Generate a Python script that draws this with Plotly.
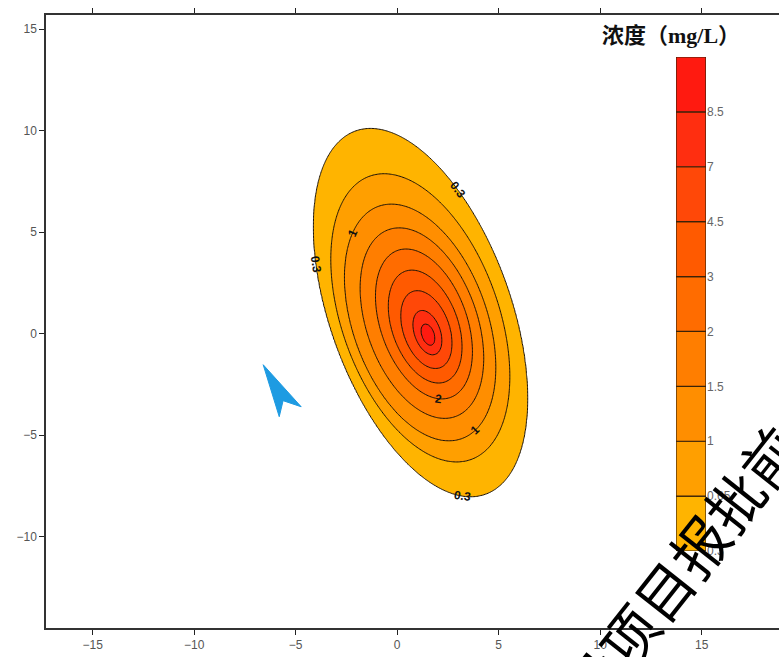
import numpy as np
import plotly.graph_objects as go

# ---------------- data ----------------
levels = [0.3, 0.65, 1, 1.5, 2, 3, 4.5, 7, 8.5]
level_labels = ["0.3", "0.65", "1", "1.5", "2", "3", "4.5", "7", "8.5"]
band_colors = ["#FFB400", "#FF9F00", "#FF8E00", "#FF7E00", "#FF6C00",
               "#FF5A00", "#FF4808", "#FF2E10", "#FF1A10"]

plume_tilt_deg = 19.7             # major axis tilt from vertical (toward upper-left)
ring_major = [9.5, 7.41, 6.08, 4.89, 3.85, 2.9, 2.0, 1.14, 0.55]   # semi-major of each contour (m)
ring_minor = [4.45, 3.86, 3.31, 2.72, 2.13, 1.63, 1.14, 0.64, 0.31]  # semi-minor of each contour (m)
ring_cx = [1.15, 1.14, 1.13, 1.22, 1.32, 1.38, 1.44, 1.49, 1.52]    # centre x of each contour
ring_cy = [1.04, 0.78, 0.55, 0.52, 0.48, 0.35, 0.20, 0.05, -0.05]   # centre y of each contour
peak_conc = 9.5

# contour labels: (level index, direction from that contour's centre in degrees)
label_level_idx = [0, 0, 0, 2, 2, 4]
label_dir_deg = [73, 155, -77, 127, -63, -79]

x_ticks = [-15, -10, -5, 0, 5, 10, 15]
y_ticks = [-10, -5, 0, 5, 10, 15]

flow_arrow_x = [-6.60, -4.73, -5.62, -5.81]
flow_arrow_y = [-1.53, -3.60, -3.30, -4.09]

watermark = "建设项目报批前公示"

# ---------------- geometry ----------------
phi = np.deg2rad(plume_tilt_deg)
m_vec = np.array([-np.sin(phi), np.cos(phi)])   # major axis direction
n_vec = np.array([np.cos(phi), np.sin(phi)])    # minor axis direction

x_range = [-17.3, 18.81]
y_range = [-14.5, 15.7]
xs = np.arange(x_range[0] - 0.2, x_range[1] + 0.2, 0.07)
ys = np.arange(y_range[0] - 0.2, y_range[1] + 0.2, 0.07)
X, Y = np.meshgrid(xs, ys)

nlev = len(levels)
G = []
for k in range(nlev):
    dx, dy = X - ring_cx[k], Y - ring_cy[k]
    u = dx * m_vec[0] + dy * m_vec[1]
    v = dx * n_vec[0] + dy * n_vec[1]
    s = np.sqrt(u**2 / ring_major[k]**2 + v**2 / ring_minor[k]**2) + 1e-9
    G.append(np.log(s))           # <0 inside contour k, 0 on it
G = np.array(G)
S_in = np.exp(G[-1])
peak_idx = (nlev - 1) + (peak_conc - levels[-1]) / 1.5

kin = (G < 0).sum(axis=0)          # number of contours enclosing each point
Z = np.empty_like(X)
outside = kin == 0
Z[outside] = -np.minimum(3.0 * G[0][outside], 8)
inner = kin == nlev
Z[inner] = (nlev - 1) + (peak_idx - (nlev - 1)) * (1 - S_in[inner])
mid = (~outside) & (~inner)
k_idx = np.clip(kin - 1, 0, nlev - 2)
gk = np.take_along_axis(G, k_idx[None], axis=0)[0]
gk1 = np.take_along_axis(G, (k_idx + 1)[None], axis=0)[0]
frac = gk / (gk - gk1 + 1e-12)
Z[mid] = (k_idx + frac)[mid]

# colourscale: background (below lowest level) white, then band colours
cs = [[0.0, "#FFFFFF"]]
for k, c in enumerate(band_colors):
    cs.append([(k + 1) / nlev, c])

fig = go.Figure()
fig.add_trace(go.Contour(
    x=xs, y=ys, z=Z,
    contours=dict(start=0, end=nlev - 1, size=1, coloring="fill", showlabels=False),
    colorscale=cs, showscale=False,
    line=dict(color="#1a1208", width=1),
    hoverinfo="skip",
))

# colour bar drawn as stacked bars
fig.add_trace(go.Bar(
    x=[0] * nlev, y=[1] * nlev, base=list(range(nlev)), width=1,
    marker=dict(color=band_colors, line=dict(color="#3a2208", width=1.2)),
    xaxis="x2", yaxis="y2", showlegend=False, hoverinfo="skip",
))

# contour labels
annotations = []
for k, ang in zip(label_level_idx, label_dir_deg):
    a = np.deg2rad(ang)
    d = np.array([np.cos(a), np.sin(a)])
    uu, vv = d @ m_vec, d @ n_vec
    Rk = 1.0 / np.sqrt(uu**2 / ring_major[k]**2 + vv**2 / ring_minor[k]**2)
    px, py = ring_cx[k] + Rk * d[0], ring_cy[k] + Rk * d[1]
    pu, pv = Rk * uu, Rk * vv
    g = (2 * pu / ring_major[k]**2) * m_vec + (2 * pv / ring_minor[k]**2) * n_vec
    tx, ty = -g[1], g[0]
    tang = -np.rad2deg(np.arctan2(ty, tx))
    while tang > 90:
        tang -= 180
    while tang <= -90:
        tang += 180
    annotations.append(dict(x=px, y=py, xref="x", yref="y", text="<b>%s</b>" % level_labels[k],
                            showarrow=False, textangle=tang,
                            font=dict(family="Liberation Sans, Arial", size=12, color="#111")))

# colour-bar title
annotations.append(dict(x=0.853, y=0.966, xref="paper", yref="paper",
                        text="<b>浓度（mg/L）</b>", showarrow=False,
                        xanchor="center", yanchor="middle",
                        font=dict(family="Liberation Serif, Noto Sans CJK SC", size=22, color="#111")))

# watermark
annotations.append(dict(x=14.8, y=-10.4, xref="x", yref="y", text=watermark,
                        showarrow=False, textangle=-51.7,
                        font=dict(family="Noto Sans CJK SC", size=57, color="#000")))

arrow_path = "M " + " L ".join("%f,%f" % (a, b) for a, b in zip(flow_arrow_x, flow_arrow_y)) + " Z"
shapes = [dict(type="path", xref="x", yref="y", path=arrow_path,
               fillcolor="#1E9BE2", line=dict(color="#1E9BE2", width=1))]

fig.update_layout(
    width=779, height=657,
    margin=dict(l=46, r=0, t=15, b=29),
    paper_bgcolor="white", plot_bgcolor="white",
    showlegend=False,
    annotations=annotations, shapes=shapes,
    xaxis=dict(range=x_range, tickvals=x_ticks, ticks="outside", ticklen=5, tickwidth=1,
               tickcolor="#222", showline=True, linecolor="#333", linewidth=1.5,
               mirror="ticks", showgrid=False, zeroline=False,
               tickfont=dict(family="Liberation Sans, Arial", size=12, color="#555")),
    yaxis=dict(range=y_range, tickvals=y_ticks, ticks="outside", ticklen=5, tickwidth=1,
               tickcolor="#222", showline=True, linecolor="#333", linewidth=1.5,
               mirror=False, showgrid=False, zeroline=False,
               tickfont=dict(family="Liberation Sans, Arial", size=12, color="#555")),
    xaxis2=dict(domain=[0.8595, 0.9004], anchor="y2", range=[-0.5, 0.5], visible=False),
    yaxis2=dict(domain=[0.1256, 0.9315], anchor="x2", side="right", range=[0, nlev],
                tickvals=list(range(nlev)), ticktext=level_labels, ticks="",
                showgrid=False, zeroline=False, showline=False,
                tickfont=dict(family="Liberation Sans, Arial", size=12, color="#666")),
)

fig.write_html("out.html")
